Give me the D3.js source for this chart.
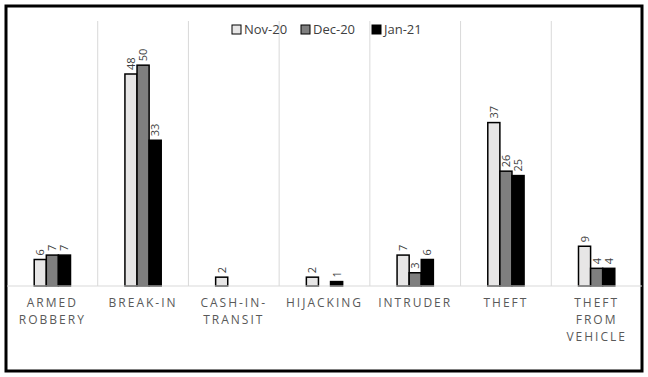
<!DOCTYPE html>
<html>
<head>
<meta charset="utf-8">
<script src="https://cdn.jsdelivr.net/npm/d3@7"></script>
<style>
  body { margin: 0; background: #fff; }
  svg { display: block; font-family: "Open Sans", sans-serif; }
</style>
</head>
<body>
<div id="chart"></div>
<script>
// crime categories, one group per category
const categories = [
    ["ARMED", "ROBBERY"],
    ["BREAK-IN"],
    ["CASH-IN-", "TRANSIT"],
    ["HIJACKING"],
    ["INTRUDER"],
    ["THEFT"],
    ["THEFT", "FROM", "VEHICLE"]
];
const seriesNames = ["Nov-20", "Dec-20", "Jan-21"];
const nov20 = [6, 48, 2, 2, 7, 37, 9];
const dec20 = [7, 50, 0, 0, 3, 26, 4];
const jan21 = [7, 33, 0, 1, 6, 25, 4];
const seriesColors = ["#e7e6e6", "#7f7f7f", "#000000"];

const w = 648, h = 377;
const margin = { top: 21, right: 6, bottom: 91, left: 7 };

const svg = d3.select("#chart").append("svg")
    .attr("width", w)
    .attr("height", h);

// outer frame
svg.append("rect")
    .attr("x", 6).attr("y", 6)
    .attr("width", w - 12).attr("height", h - 12)
    .attr("fill", "none")
    .attr("stroke", "#000")
    .attr("stroke-width", 3);

const keys = categories.map((c, i) => i);
const x = d3.scaleBand()
    .domain(keys)
    .range([margin.left, w - margin.right]);

const xs = d3.scaleBand()
    .domain(seriesNames)
    .range([0, x.bandwidth() * 0.4]);

const y = d3.scaleLinear()
    .domain([0, 60])
    .range([h - margin.bottom, margin.top]);

// separators between categories
svg.append("g")
    .selectAll("line")
    .data(keys.slice(1))
    .enter()
    .append("line")
    .attr("x1", d => x(d)).attr("x2", d => x(d))
    .attr("y1", y(60)).attr("y2", y(0))
    .attr("stroke", "#d9d9d9")
    .attr("stroke-width", 1);

const data = [nov20, dec20, jan21];
const offset = x.bandwidth() * 0.3;

const groups = svg.append("g")
    .selectAll("g")
    .data(seriesNames)
    .enter()
    .append("g");

groups.each(function (name, si) {
    const g = d3.select(this);
    const vals = data[si].map((v, i) => ({ i, v })).filter(d => d.v > 0);
    g.selectAll("rect")
        .data(vals)
        .enter()
        .append("rect")
        .attr("x", d => x(d.i) + offset + xs(name))
        .attr("y", d => y(d.v))
        .attr("width", xs.bandwidth())
        .attr("height", d => y(0) - y(d.v))
        .attr("fill", seriesColors[si])
        .attr("stroke", "#000")
        .attr("stroke-width", 1.5);

    // rotated value labels
    g.selectAll("text")
        .data(vals)
        .enter()
        .append("text")
        .attr("transform", d => {
            const cx = x(d.i) + offset + xs(name) + xs.bandwidth() / 2;
            return `translate(${cx + 4},${y(d.v) - 4}) rotate(-90)`;
        })
        .attr("text-anchor", "start")
        .style("font-size", "11px")
        .style("fill", "#404040")
        .text(d => d.v);
});

// baseline
svg.append("line")
    .attr("x1", margin.left).attr("x2", w - margin.right)
    .attr("y1", y(0)).attr("y2", y(0))
    .attr("stroke", "#d9d9d9")
    .attr("stroke-width", 1.2);

// category labels
const labels = svg.append("g")
    .selectAll("text")
    .data(categories)
    .enter()
    .append("text")
    .attr("x", (d, i) => x(i) + x.bandwidth() / 2)
    .attr("y", y(0) + 21)
    .attr("text-anchor", "middle")
    .style("font-size", "12px")
    .style("letter-spacing", "2px")
    .style("fill", "#595959");

labels.selectAll("tspan")
    .data(d => d)
    .enter()
    .append("tspan")
    .attr("x", function () { return d3.select(this.parentNode).attr("x"); })
    .attr("dy", (d, i) => i === 0 ? 0 : 17)
    .text(d => d);

// legend
const legendX = [232, 301, 372];
const legend = svg.append("g")
    .selectAll("g")
    .data(seriesNames)
    .enter()
    .append("g")
    .attr("transform", (d, i) => `translate(${legendX[i]},25)`);

legend.append("rect")
    .attr("width", 9).attr("height", 9)
    .attr("fill", (d, i) => seriesColors[i])
    .attr("stroke", "#000")
    .attr("stroke-width", 1);

legend.append("text")
    .attr("x", 12).attr("y", 9)
    .style("font-size", "13px")
    .style("fill", "#404040")
    .text(d => d);
</script>
</body>
</html>
